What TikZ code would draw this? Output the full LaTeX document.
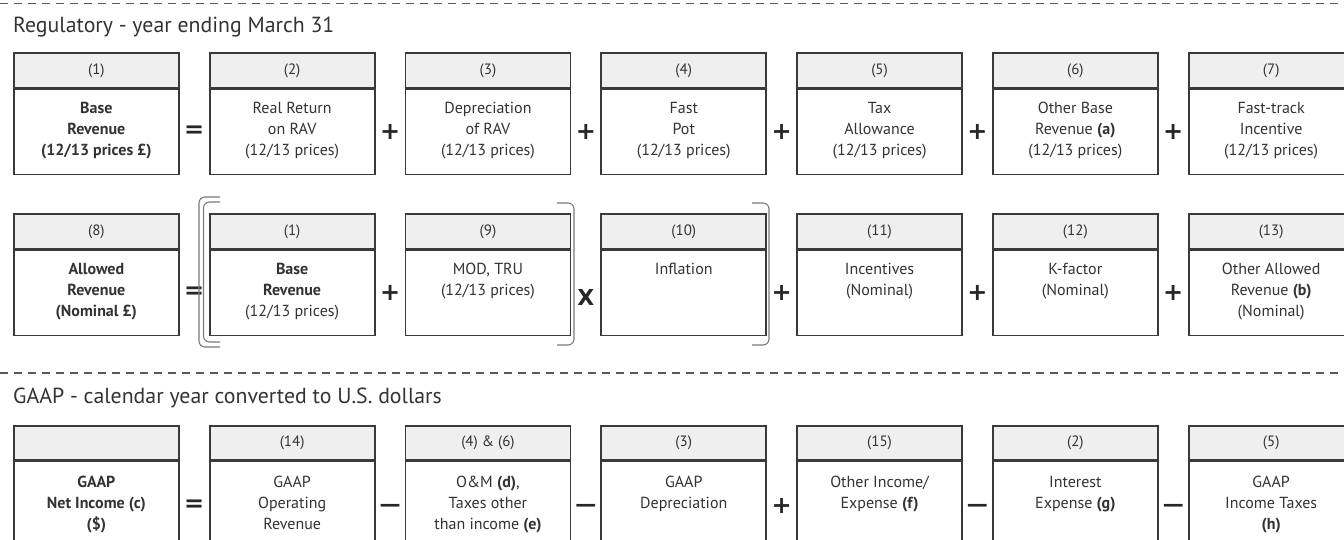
\documentclass[tikz,border=0pt]{standalone}
\usepackage{fontspec}
\setmainfont{PT Sans}
\newfontfamily\opfont{DejaVu Sans}
\usetikzlibrary{calc}
\definecolor{ink}{HTML}{3A3A3A}
\definecolor{txt}{HTML}{333333}
\definecolor{hfill}{HTML}{EFEFEF}
\definecolor{brk}{HTML}{7A7A7A}
\tikzset{
  hdr/.style={draw=ink, line width=1.7pt, fill=hfill, minimum width=165pt, inner sep=0pt,
     text=txt, font=\fontsize{15}{15}\selectfont},
  bdy/.style={draw=ink, line width=1.7pt, fill=white, minimum width=165pt, inner sep=0pt},
  btxt/.style={align=center, inner sep=0pt, text=txt, font=\fontsize{16}{21}\selectfont},
  op/.style={text=black!85, inner sep=0pt, font=\opfont\fontsize{24}{24}\selectfont\bfseries},
  minusop/.style={op, font=\opfont\fontsize{21}{21}\selectfont\bfseries},
  sep/.style={draw=black!65, line width=1.3pt, dash pattern=on 8pt off 6pt},
  brack/.style={draw=brk, line width=1.1pt, rounded corners=6pt},
  title/.style={anchor=base west, inner sep=0pt, text=txt, font=\fontsize{21.8}{22}\selectfont}
}
\def\tshift{13pt}
\newcommand\rbox[7]{%
  \node[hdr, anchor=north west, minimum height=#4] (#1h) at (#2,#3) {#6};
  \node[bdy, anchor=north, minimum height=#5] (#1b) at (#1h.south) {};
  \node[btxt, anchor=north] (#1t) at ([yshift=-\tshift]#1b.north) {#7};
}
\begin{document}
\begin{tikzpicture}[x=1pt,y=-1pt]
\useasboundingbox (0,0) rectangle (1344,540);
\clip (0,0) rectangle (1344,540);
% separators
\coordinate (s1a) at (0,3.5); \coordinate (s1b) at (1344,3.5);
\coordinate (s2a) at (0,373); \coordinate (s2b) at (1344,373);
\draw[sep] (s1a) -- (s1b);
\draw[sep] (s2a) -- (s2b);
\node[title] (t1) at (13,33) {Regulatory - year ending March 31};
\node[title] (t2) at (13,403) {GAAP - calendar year converted to U.S. dollars};
% row 1
\rbox{a1}{13}{52}{35pt}{85pt}{(1)}{\bfseries Base\\\bfseries Revenue\\\bfseries (12/13 prices £)}
\rbox{a2}{208.8}{52}{35pt}{85pt}{(2)}{Real Return\\on RAV\\(12/13 prices)}
\rbox{a3}{404.6}{52}{35pt}{85pt}{(3)}{Depreciation\\of RAV\\(12/13 prices)}
\rbox{a4}{600.4}{52}{35pt}{85pt}{(4)}{Fast\\Pot\\(12/13 prices)}
\rbox{a5}{796.2}{52}{35pt}{85pt}{(5)}{Tax\\Allowance\\(12/13 prices)}
\rbox{a6}{992}{52}{35pt}{85pt}{(6)}{Other Base\\Revenue \textbf{(a)}\\(12/13 prices)}
\rbox{a7}{1187.8}{52}{35pt}{85pt}{(7)}{Fast-track\\Incentive\\(12/13 prices)}
% row 2
\rbox{b1}{13}{213}{35pt}{85pt}{(8)}{\bfseries Allowed\\\bfseries Revenue\\\bfseries (Nominal £)}
\rbox{b2}{208.8}{213}{35pt}{85pt}{(1)}{\bfseries Base\\\bfseries Revenue\\(12/13 prices)}
\rbox{b3}{404.6}{213}{35pt}{85pt}{(9)}{MOD, TRU\\(12/13 prices)}
\rbox{b4}{600.4}{213}{35pt}{85pt}{(10)}{Inflation}
\rbox{b5}{796.2}{213}{35pt}{85pt}{(11)}{Incentives\\(Nominal)}
\rbox{b6}{992}{213}{35pt}{85pt}{(12)}{K-factor\\(Nominal)}
\rbox{b7}{1187.8}{213}{35pt}{85pt}{(13)}{Other Allowed\\Revenue \textbf{(b)}\\(Nominal)}
% row 3
\def\tshift{15pt}
\rbox{c1}{13}{425}{34pt}{110pt}{}{\bfseries GAAP\\\bfseries Net Income (c)\\\bfseries (\$)}
\rbox{c2}{208.8}{425}{34pt}{110pt}{(14)}{GAAP\\Operating\\Revenue}
\rbox{c3}{404.6}{425}{34pt}{110pt}{(4) \& (6)}{O\&M \textbf{(d)},\\Taxes other\\than income \textbf{(e)}}
\rbox{c4}{600.4}{425}{34pt}{110pt}{(3)}{GAAP\\Depreciation}
\rbox{c5}{796.2}{425}{34pt}{110pt}{(15)}{Other Income/\\Expense \textbf{(f)}}
\rbox{c6}{992}{425}{34pt}{110pt}{(2)}{Interest\\Expense \textbf{(g)}}
\rbox{c7}{1187.8}{425}{34pt}{110pt}{(5)}{GAAP\\Income Taxes\\\textbf{(h)}}
% operators row 1
\foreach \i/\j/\s [count=\k] in {1/2/=,2/3/+,3/4/+,4/5/+,5/6/+,6/7/+}{
  \node[op] (oa\k) at ($(a\i h.north east)!0.5!(a\j h.north west)+(0,80)$) {\s};
}
\foreach \i/\j/\s [count=\k] in {1/2/=,2/3/+,4/5/+,5/6/+,6/7/+}{
  \node[op] (ob\k) at ($(b\i h.north east)!0.5!(b\j h.north west)+(0,80)$) {\s};
}
\node[op, font=\opfont\fontsize{22}{22}\selectfont\bfseries] (obx) at ($(b3h.north east)!0.5!(b4h.north west)+(0,84)$) {X};
\foreach \i/\j/\s [count=\k] in {1/2/=,4/5/+}{
  \node[op] (oc\k) at ($(c\i h.north east)!0.5!(c\j h.north west)+(0,81)$) {\s};
}
\foreach \i/\j [count=\k] in {2/3,3/4,5/6,6/7}{
  \node[minusop] (om\k) at ($(c\i h.north east)!0.5!(c\j h.north west)+(0,83)$) {—};
}
% brackets
\draw[brack] (220,197) -- (199,197) -- (199,347) -- (220,347);
\draw[brack] (220,202) -- (203.5,202) -- (203.5,342) -- (220,342);
\draw[brack] (557,203) -- (574,203) -- (574,345) -- (557,345);
\draw[brack] (752,203) -- (769,203) -- (769,345) -- (752,345);
\end{tikzpicture}
\end{document}
